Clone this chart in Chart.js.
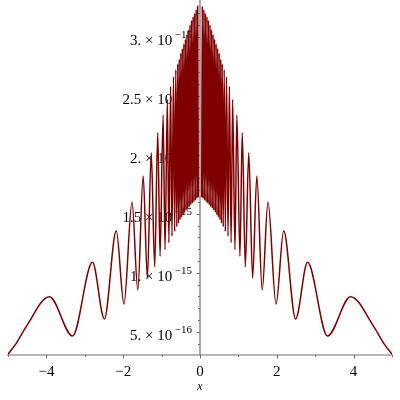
<!DOCTYPE html>
<html>
<head>
<meta charset="utf-8">
<script src="https://cdn.jsdelivr.net/npm/chart.js@4"></script>
<style>
  html, body { margin: 0; padding: 0; background: #ffffff; }
  #wrap { width: 400px; height: 400px; }
</style>
</head>
<body>
<div id="wrap"><canvas id="c" width="400" height="400"></canvas></div>
<script>
// ---- data (y values in units of 1e-16) ----
const UNIT = 1e-16;
const xValues = [
  -5.00, -4.79, -4.53, -3.92, -3.32, -2.80, -2.49, -2.18, -1.98, -1.77,
  -1.62, -1.48, -1.37, -1.27, -1.18, -1.10, -1.04, -0.96, -0.91, -0.85,
  -0.81, -0.765, -0.73, -0.69, -0.66, -0.63, -0.605, -0.58, -0.56, -0.54,
  -0.52, -0.50, -0.48, -0.46, -0.44, -0.42, -0.40, -0.38, -0.36, -0.34,
  -0.32, -0.30, -0.28, -0.26, -0.24, -0.22, -0.20, -0.18, -0.16, -0.14,
  -0.12, -0.10, -0.08, -0.06, -0.045,
  0,
  0.045, 0.06, 0.08, 0.10, 0.12, 0.14, 0.16, 0.18, 0.20, 0.22,
  0.24, 0.26, 0.28, 0.30, 0.32, 0.34, 0.36, 0.38, 0.40, 0.42,
  0.44, 0.46, 0.48, 0.50, 0.52, 0.54, 0.56, 0.58, 0.605, 0.63,
  0.66, 0.69, 0.73, 0.765, 0.81, 0.85, 0.91, 0.96, 1.04, 1.10,
  1.18, 1.27, 1.37, 1.48, 1.62, 1.77, 1.98, 2.18, 2.49, 2.80,
  3.32, 3.92, 4.53, 4.79, 5.00
];
const yValues = [
  3.1, 4.0, 5.42, 7.97, 4.64, 10.88, 6.08, 13.56, 7.35, 15.99,
  8.53, 18.19, 9.55, 20.17, 10.5, 21.86, 11.4, 23.36, 11.95, 24.69,
  12.55, 25.8, 13.1, 26.6, 13.5, 27.2, 13.9, 27.7, 14.2, 28.1,
  14.5, 28.6, 14.7, 29.0, 14.9, 29.4, 15.1, 29.8, 15.3, 30.2,
  15.45, 30.6, 15.6, 31.0, 15.75, 31.4, 15.9, 31.7, 16.0, 32.0,
  16.15, 32.3, 16.3, 32.6, 16.4,
  null,
  16.4, 32.6, 16.3, 32.3, 16.15, 32.0, 16.0, 31.7, 15.9, 31.4,
  15.75, 31.0, 15.6, 30.6, 15.45, 30.2, 15.3, 29.8, 15.1, 29.4,
  14.9, 29.0, 14.7, 28.6, 14.5, 28.1, 14.2, 27.7, 13.9, 27.2,
  13.5, 26.6, 13.1, 25.8, 12.55, 24.69, 11.95, 23.36, 11.4, 21.86,
  10.5, 20.17, 9.55, 18.19, 8.53, 15.99, 7.35, 13.56, 6.08, 10.88,
  4.64, 7.97, 5.42, 4.0, 3.1
];
const xTickValues = [-4, -2, 0, 2, 4];
const xTickLabels = ['\u22124', '\u22122', '0', '2', '4'];
const xMinorTicks = [-5, -3, -1, 1, 3, 5];
const yTickValues = [5e-16, 1e-15, 1.5e-15, 2e-15, 2.5e-15, 3e-15];
const yTickMantissas = ['5.', '1.', '1.5', '2.', '2.5', '3.'];
const yTickExponents = ['\u221216', '\u221215', '\u221215', '\u221215', '\u221215', '\u221215'];
const yMinorTicks = [4e-16, 6e-16, 7e-16, 8e-16, 9e-16, 1.1e-15, 1.2e-15, 1.3e-15, 1.4e-15,
  1.6e-15, 1.7e-15, 1.8e-15, 1.9e-15, 2.1e-15, 2.2e-15, 2.3e-15, 2.4e-15,
  2.6e-15, 2.7e-15, 2.8e-15, 2.9e-15, 3.1e-15, 3.2e-15];
const xTitle = 'x';

const points = xValues.map((x, i) => ({ x: x, y: yValues[i] === null ? null : yValues[i] * UNIT }));

const AXIS_COLOR = '#6e6e6e';
const SERIF = '"Liberation Serif", "DejaVu Serif", serif';

const axesPlugin = {
  id: 'mapleAxes',
  beforeDatasetsDraw(chart) {
    const ctx = chart.ctx;
    const xs = chart.scales.x, ys = chart.scales.y;
    const area = chart.chartArea;
    const x0 = xs.getPixelForValue(0);
    const yb = area.bottom;
    ctx.save();
    ctx.strokeStyle = AXIS_COLOR;
    ctx.lineWidth = 1.2;
    ctx.beginPath();
    ctx.moveTo(area.left - 1, yb);
    ctx.lineTo(area.right + 1, yb);
    ctx.stroke();
    ctx.beginPath();
    ctx.moveTo(x0, area.top - 5);
    ctx.lineTo(x0, yb);
    ctx.stroke();
    ctx.lineWidth = 1;
    xTickValues.forEach(v => {
      const px = Math.round(xs.getPixelForValue(v)) + 0.5;
      ctx.beginPath(); ctx.moveTo(px, yb); ctx.lineTo(px, yb + 3.5); ctx.stroke();
    });
    xMinorTicks.forEach(v => {
      const px = Math.round(xs.getPixelForValue(v)) + 0.5;
      ctx.beginPath(); ctx.moveTo(px, yb); ctx.lineTo(px, yb + 2); ctx.stroke();
    });
    yTickValues.forEach(v => {
      const py = Math.round(ys.getPixelForValue(v)) + 0.5;
      ctx.beginPath(); ctx.moveTo(x0, py); ctx.lineTo(x0 - 3.5, py); ctx.stroke();
    });
    yMinorTicks.forEach(v => {
      const py = Math.round(ys.getPixelForValue(v)) + 0.5;
      ctx.beginPath(); ctx.moveTo(x0, py); ctx.lineTo(x0 - 2, py); ctx.stroke();
    });
    ctx.fillStyle = '#000000';
    ctx.font = '15px ' + SERIF;
    ctx.textAlign = 'center';
    ctx.textBaseline = 'alphabetic';
    xTickValues.forEach((v, i) => {
      ctx.fillText(xTickLabels[i], xs.getPixelForValue(v), yb + 21);
    });
    ctx.font = 'italic 12px ' + SERIF;
    ctx.fillText(xTitle, x0, yb + 35);
    const right = x0 - 8;
    yTickValues.forEach((v, i) => {
      const py = ys.getPixelForValue(v);
      ctx.font = '11px ' + SERIF;
      const ew = ctx.measureText(yTickExponents[i]).width;
      ctx.textAlign = 'left';
      ctx.fillText(yTickExponents[i], right - ew, py + 0.8);
      ctx.font = '15px ' + SERIF;
      ctx.textAlign = 'right';
      ctx.fillText(yTickMantissas[i] + ' \u00d7 10', right - ew - 2.5, py + 8);
    });
    ctx.restore();
  }
};

new Chart(document.getElementById('c'), {
  type: 'line',
  data: {
    datasets: [{
      data: points,
      borderColor: '#800000',
      borderWidth: 1.5,
      pointRadius: 0,
      fill: false,
      spanGaps: false,
      cubicInterpolationMode: 'monotone'
    }]
  },
  options: {
    responsive: false,
    animation: false,
    devicePixelRatio: 1,
    layout: { padding: { left: 8, right: 8, top: 5, bottom: 45 } },
    scales: {
      x: { type: 'linear', min: -5, max: 5, display: false },
      y: { type: 'linear', min: 3.03e-16, max: 3.269e-15, display: false }
    },
    plugins: { legend: { display: false }, tooltip: { enabled: false } }
  },
  plugins: [axesPlugin]
});
</script>
</body>
</html>
